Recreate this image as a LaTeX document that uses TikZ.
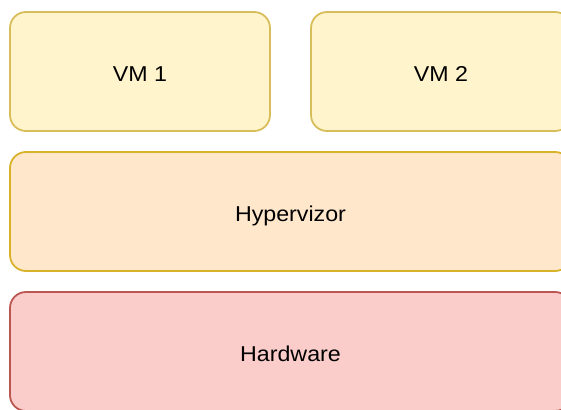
\documentclass[tikz,border=0pt]{standalone}
\usepackage{fontspec}
\newfontfamily\labelfont[FakeStretch=1.08]{Liberation Sans}
\definecolor{vmfill}{HTML}{FFF4CC}
\definecolor{vmdraw}{HTML}{D8BE5A}
\definecolor{hvfill}{HTML}{FFE7CC}
\definecolor{hvdraw}{HTML}{D9B22C}
\definecolor{hwfill}{HTML}{FACDCB}
\definecolor{hwdraw}{HTML}{BC5652}
\tikzset{
  layer/.style={rectangle, rounded corners=16pt, line width=1.8pt, inner sep=0pt,
    minimum height=119pt, text=black, text height=20pt, text depth=0pt,
    font=\labelfont\fontsize{21.5}{25}\selectfont},
  vm/.style={layer, fill=vmfill, draw=vmdraw, minimum width=260pt},
  hyper/.style={layer, fill=hvfill, draw=hvdraw, minimum width=561pt},
  hw/.style={layer, fill=hwfill, draw=hwdraw, minimum width=561pt}
}
\begin{document}
\begin{tikzpicture}[x=1pt,y=-1pt]
  \useasboundingbox (0,0) rectangle (561,409);
  \clip (0,0) rectangle (561,409);
  % virtual machines on top
  \node[vm] (vm1) at (140,71.5) {VM 1};
  \node[vm] (vm2) at (441,71.5) {VM 2};
  % hypervisor layer
  \node[hyper] (hv) at (290.5,211.5) {Hypervizor};
  % physical hardware
  \node[hw] (hw) at (290.5,351.5) {Hardware};
\end{tikzpicture}
\end{document}
